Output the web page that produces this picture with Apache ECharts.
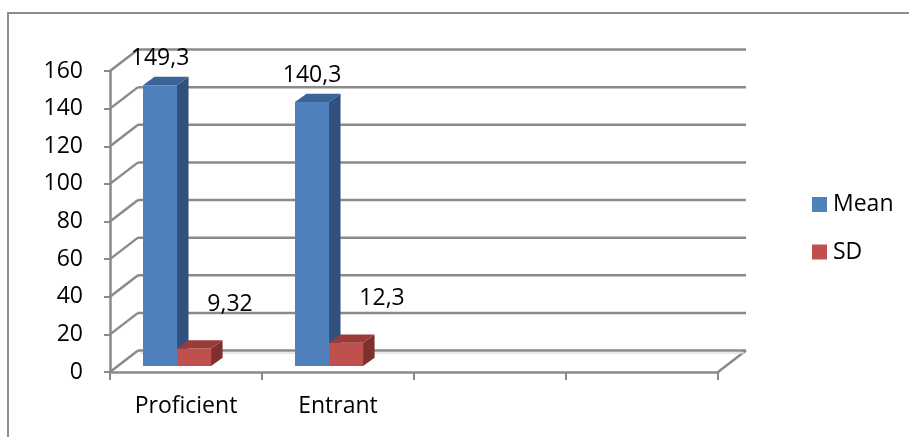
<!DOCTYPE html>
<html>
<head>
<meta charset="utf-8">
<script src="https://cdn.jsdelivr.net/npm/echarts@6/dist/echarts.min.js"></script>
<style>
html,body{margin:0;padding:0;background:#fff;}
#chart{width:909px;height:437px;}
</style>
</head>
<body>
<div id="chart"></div>
<script>
// ---- data ----
const categories = ['Proficient', 'Entrant', '', ''];
const meanValues = [149.3, 140.3, null, null];
const sdValues = [9.32, 12.3, null, null];
const seriesNames = ['Mean', 'SD'];
const yTicks = [0, 20, 40, 60, 80, 100, 120, 140, 160];

// ---- style constants ----
const FONT = 'Open Sans';
const FS = 23;
const GRID_COLOR = '#8a8a8a';
const WALL_DX = 28, WALL_DY = -21.5;      // back wall depth offset
const BAR_DX = 11.5, BAR_DY = -8.3;       // bar depth
const BAR_SHIFT_Y = -6;                   // bars sit slightly behind front plane
const BAR_W_RATIO = 0.224;
const BAR_LEFT_RATIO = 0.283;
const faces = [
  {front: '#4F81BD', top: '#3B6496', side: '#30517D'},
  {front: '#C0504D', top: '#9A3B39', side: '#7E302E'}
];
const labelOffset = [{dx: 0, dy: -26.5}, {dx: 36, dy: -44}];

function fmt(v) { return String(v).replace('.', ','); }

function barRender(si) {
  return function (params, api) {
    const cat = api.value(0), v = api.value(1);
    if (v == null || isNaN(v)) return null;
    const base = api.coord([cat, 0]);
    const topP = api.coord([cat, v]);
    const band = api.size([1, 0])[0];
    const w = band * BAR_W_RATIO;
    const x0 = base[0] - band * BAR_LEFT_RATIO + si * w;
    const x1 = x0 + w;
    const yb = base[1] + BAR_SHIFT_Y;
    const yt = topP[1] + BAR_SHIFT_Y;
    const c = faces[si];
    const lo = labelOffset[si];
    return {
      type: 'group',
      children: [
        {type: 'polygon', shape: {points: [[x0, yb], [x1, yb], [x1, yt], [x0, yt]]}, style: {fill: c.front}},
        {type: 'polygon', shape: {points: [[x1, yb], [x1 + BAR_DX, yb + BAR_DY], [x1 + BAR_DX, yt + BAR_DY], [x1, yt]]}, style: {fill: c.side}},
        {type: 'polygon', shape: {points: [[x0, yt], [x1, yt], [x1 + BAR_DX, yt + BAR_DY], [x0 + BAR_DX, yt + BAR_DY]]}, style: {fill: c.top}},
        {type: 'text', x: (x0 + x1) / 2 + lo.dx, y: yt + lo.dy,
          style: {text: fmt(v), fill: '#000', font: FS + 'px "' + FONT + '"', align: 'center', verticalAlign: 'middle'}}
      ]
    };
  };
}

function wallRender(params, api) {
  const v = api.value(1);
  const cs = params.coordSys;
  const y = api.coord([0, v])[1];
  const xl = cs.x, xr = cs.x + cs.width;
  const st = {stroke: GRID_COLOR, lineWidth: 2.5, fill: null};
  const ch = [
    {type: 'line', shape: {x1: xl, y1: y, x2: xl + WALL_DX, y2: y + WALL_DY}, style: st},
    {type: 'line', shape: {x1: xl + WALL_DX, y1: y + WALL_DY, x2: xr + WALL_DX, y2: y + WALL_DY}, style: st}
  ];
  if (v === 0) {
    ch.push({type: 'line', shape: {x1: xr, y1: y, x2: xr + WALL_DX, y2: y + WALL_DY}, style: st});
    ch.push({type: 'line', shape: {x1: xl + WALL_DX + 2, y1: y + WALL_DY + 2.5, x2: xr + WALL_DX - 2, y2: y + WALL_DY + 2.5}, style: {stroke: '#e0e0e0', lineWidth: 1.5}});
  }
  return {type: 'group', children: ch};
}

const chart = echarts.init(document.getElementById('chart'), null, {renderer: 'canvas'});
chart.setOption({
  animation: false,
  backgroundColor: '#fff',
  textStyle: {fontFamily: FONT},
  graphic: [{
    type: 'rect', shape: {x: 8, y: 13, width: 1000, height: 500},
    style: {fill: null, stroke: '#8c8c8c', lineWidth: 2}, silent: true, z: -10
  }],
  grid: {left: 110, right: 191, top: 71, bottom: 65, containLabel: false},
  legend: {
    data: seriesNames,
    orient: 'vertical',
    left: 812, top: 193,
    padding: 0,
    itemWidth: 15, itemHeight: 15, itemGap: 24.5,
    icon: 'rect',
    textStyle: {fontFamily: FONT, fontSize: FS, color: '#000', padding: [0, 0, 0, 1]}
  },
  xAxis: {
    type: 'category',
    data: categories,
    boundaryGap: true,
    axisLine: {show: true, lineStyle: {color: GRID_COLOR, width: 2.5}},
    axisTick: {show: true, length: 8, lineStyle: {color: GRID_COLOR, width: 2}},
    axisLabel: {color: '#000', fontFamily: FONT, fontSize: FS, margin: 23, interval: 0},
    splitLine: {show: false}
  },
  yAxis: {
    type: 'value',
    min: 0, max: 160, interval: 20,
    axisLine: {show: true, lineStyle: {color: GRID_COLOR, width: 2.5}},
    axisTick: {show: true, length: 6, lineStyle: {color: GRID_COLOR, width: 2}},
    axisLabel: {color: '#000', fontFamily: FONT, fontSize: FS, margin: 27},
    splitLine: {show: false}
  },
  series: [
    {type: 'custom', name: '_walls', renderItem: wallRender, data: yTicks.map(v => [0, v]), z: 1, silent: true},
    {type: 'custom', name: seriesNames[0], renderItem: barRender(0), data: meanValues.map((v, i) => [i, v]), z: 3,
      itemStyle: {color: faces[0].front}},
    {type: 'custom', name: seriesNames[1], renderItem: barRender(1), data: sdValues.map((v, i) => [i, v]), z: 4,
      itemStyle: {color: faces[1].front}}
  ]
});
</script>
</body>
</html>
